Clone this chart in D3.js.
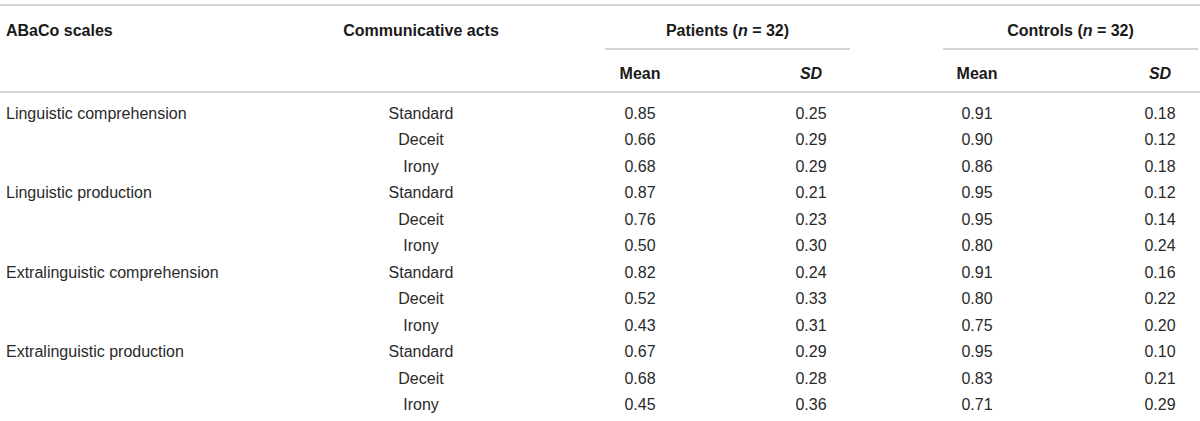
<!DOCTYPE html>
<html>
<head>
<meta charset="utf-8">
<script src="https://cdn.jsdelivr.net/npm/d3@7"></script>
<style>
  html, body { margin: 0; padding: 0; background: #fff; }
  svg { display: block; }
  text { font-family: "Liberation Sans", Arial, Helvetica, sans-serif; font-size: 16px; fill: #2a2a2a; }
  .hdr { font-weight: bold; fill: #1a1a1a; }
</style>
</head>
<body>
<svg id="chart" width="1200" height="421"></svg>
<script>
// ---- data ----
const scales = ["Linguistic comprehension", "Linguistic production", "Extralinguistic comprehension", "Extralinguistic production"];
const acts = ["Standard", "Deceit", "Irony"];
const patientsMean = [0.85, 0.66, 0.68, 0.87, 0.76, 0.50, 0.82, 0.52, 0.43, 0.67, 0.68, 0.45];
const patientsSD   = [0.25, 0.29, 0.29, 0.21, 0.23, 0.30, 0.24, 0.33, 0.31, 0.29, 0.28, 0.36];
const controlsMean = [0.91, 0.90, 0.86, 0.95, 0.95, 0.80, 0.91, 0.80, 0.75, 0.95, 0.83, 0.71];
const controlsSD   = [0.18, 0.12, 0.18, 0.12, 0.14, 0.24, 0.16, 0.22, 0.20, 0.10, 0.21, 0.29];
const groupNames = ["Patients", "Controls"];
const groupN = [32, 32];
const colHeaders = ["ABaCo scales", "Communicative acts"];
const statHeaders = ["Mean", "SD"];

// ---- build rows ----
const rows = [];
scales.forEach((s, i) => {
  acts.forEach((a, j) => {
    const k = i * acts.length + j;
    rows.push({ scale: j === 0 ? s : "", act: a,
      pm: patientsMean[k], ps: patientsSD[k], cm: controlsMean[k], cs: controlsSD[k] });
  });
});

const svg = d3.select("#chart");
const W = 1200;
const lineColor = "#c9c9c9";

// row scale
const y = d3.scaleBand().domain(d3.range(rows.length)).range([99.75, 99.75 + 26.5 * rows.length]);
// numeric column centers
const numCols = ["pm", "ps", "cm", "cs"];
const xNum = d3.scaleOrdinal().domain(numCols).range([640, 811, 977, 1160]);
const fmt = d3.format(".2f");

// rules
svg.append("line").attr("x1", 0).attr("x2", W).attr("y1", 5).attr("y2", 5)
  .attr("stroke", lineColor).attr("stroke-width", 1.6);
svg.append("line").attr("x1", 0).attr("x2", W).attr("y1", 92).attr("y2", 92)
  .attr("stroke", lineColor).attr("stroke-width", 1.6);
const groupSpan = [[605, 850], [943, 1198]];
groupSpan.forEach(g => {
  svg.append("line").attr("x1", g[0]).attr("x2", g[1]).attr("y1", 49).attr("y2", 49)
    .attr("stroke", lineColor).attr("stroke-width", 1.4);
});

// header row 1
svg.append("text").attr("class", "hdr").attr("x", 6).attr("y", 36).text(colHeaders[0]);
svg.append("text").attr("class", "hdr").attr("x", 421).attr("y", 36).attr("text-anchor", "middle").text(colHeaders[1]);
groupNames.forEach((g, i) => {
  const t = svg.append("text").attr("class", "hdr")
    .attr("x", (groupSpan[i][0] + groupSpan[i][1]) / 2).attr("y", 36).attr("text-anchor", "middle");
  t.append("tspan").text(g + " (");
  t.append("tspan").attr("font-style", "italic").text("n");
  t.append("tspan").text(" = " + groupN[i] + ")");
});

// header row 2
numCols.forEach((c, i) => {
  const isSD = i % 2 === 1;
  svg.append("text").attr("class", "hdr").attr("x", xNum(c)).attr("y", 79)
    .attr("text-anchor", "middle").attr("font-style", isSD ? "italic" : "normal")
    .text(statHeaders[i % 2]);
});

// body rows
const g = svg.append("g");
const rowG = g.selectAll("g.row").data(rows).join("g").attr("class", "row")
  .attr("transform", (d, i) => `translate(0,${y(i) + y.bandwidth() / 2 + 5.5})`);
rowG.append("text").attr("x", 6).text(d => d.scale);
rowG.append("text").attr("x", 421).attr("text-anchor", "middle").text(d => d.act);
numCols.forEach(c => {
  rowG.append("text").attr("x", xNum(c)).attr("text-anchor", "middle").text(d => fmt(d[c]));
});
</script>
</body>
</html>
